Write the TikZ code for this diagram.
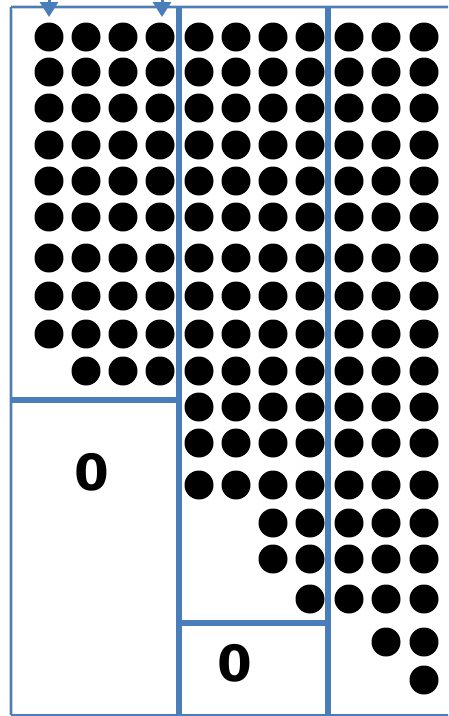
\documentclass[tikz,border=0pt]{standalone}
\usepackage{fontspec}
\newfontfamily\digitfont{DejaVu Sans}
\usetikzlibrary{arrows.meta}
\definecolor{gridblue}{HTML}{4A7EBB}
\definecolor{gridshade}{HTML}{D0D0D0}

\begin{document}
\begin{tikzpicture}[
  x=1pt, y=-1pt,
  frame/.style={draw=gridblue, line width=2.5pt},
  divider/.style={draw=gridblue, line width=6pt},
  shade/.style={draw=gridshade, line width=4pt, xshift=-4pt, yshift=-4pt},
  dot/.style={fill=black},
  zero/.style={font=\digitfont\bfseries\fontsize{50}{50}\selectfont, text=black},
  arr/.style={draw=gridblue, line width=3pt, -{Triangle[width=18pt,length=15pt]}},
]
\useasboundingbox (0,0) rectangle (448,716);
\clip (0,0) rectangle (448,716);

% ===== corner points =====
\coordinate (tl) at (11,7);
\coordinate (tr) at (456,7);
\coordinate (bl) at (11,715);
\coordinate (br) at (456,715);
\coordinate (d1t) at (179,7);
\coordinate (d1b) at (179,720);
\coordinate (d2t) at (328,7);
\coordinate (d2b) at (328,720);
\coordinate (h1l) at (11,400);
\coordinate (h1r) at (179,400);
\coordinate (h2l) at (179,623);
\coordinate (h2r) at (328,623);

% ===== dots =====
% left block
\foreach \y in {37,72,108,145,181,217,258,296,334}
  \foreach \x in {49,86,123,160}
    \fill[dot] (\x,\y) circle[radius=14.5pt];
\foreach \x in {86,123,160}
  \fill[dot] (\x,371) circle[radius=14.5pt];

% middle block
\foreach \y in {37,72,108,145,181,217,258,296,334,371,407,443,485}
  \foreach \x in {199,236,273,310}
    \fill[dot] (\x,\y) circle[radius=14.5pt];
\foreach \y in {523,559}
  \foreach \x in {273,310}
    \fill[dot] (\x,\y) circle[radius=14.5pt];
\fill[dot] (310,599) circle[radius=14.5pt];

% right block
\foreach \y in {37,72,108,145,181,217,258,296,334,371,407,443,485,523,559,599}
  \foreach \x in {349,386,424}
    \fill[dot] (\x,\y) circle[radius=14.5pt];
\foreach \x in {386,424}
  \fill[dot] (\x,642) circle[radius=14.5pt];
\fill[dot] (424,680) circle[radius=14.5pt];

% ===== shadows =====
\draw[shade] (tl) -- (tr);
\draw[shade] (tl) -- (bl);
\draw[shade] (d1t) -- (d1b);
\draw[shade] (d2t) -- (d2b);
\draw[shade] (h1l) -- (h1r);
\draw[shade] (h2l) -- (h2r);

% ===== frame and dividers =====
\draw[frame] (tl) -- (tr);
\draw[frame] (tl) -- (bl);
\draw[frame] (bl) -- (br);
\draw[divider] (d1t) -- (d1b);
\draw[divider] (d2t) -- (d2b);
\draw[divider] (h1l) -- (h1r);
\draw[divider] (h2l) -- (h2r);

% ===== zero labels =====
\node[zero] (zeroleft) at (92,472) {0};
\node[zero] (zeromid) at (235,663) {0};

% ===== arrows from above =====
\coordinate (a1top) at (49,-6);
\coordinate (a1tip) at (49,17);
\coordinate (a2top) at (162,-6);
\coordinate (a2tip) at (162,17);
\draw[arr] (a1top) -- (a1tip);
\draw[arr] (a2top) -- (a2tip);

\end{tikzpicture}
\end{document}
